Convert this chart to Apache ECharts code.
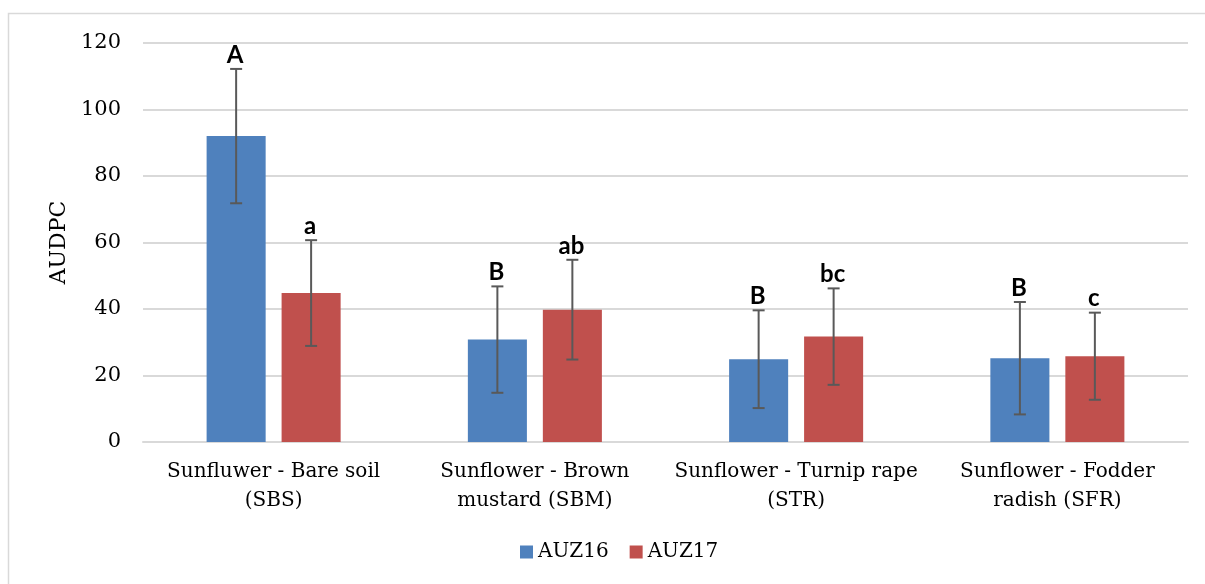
<!DOCTYPE html>
<html>
<head>
<meta charset="utf-8">
<script src="https://cdn.jsdelivr.net/npm/echarts@6/dist/echarts.min.js"></script>
<style>
html,body{margin:0;padding:0;background:#fff;}
#chart{width:1205px;height:584px;}
</style>
</head>
<body>
<div id="chart"></div>
<script>
const categories = ['Sunfluwer - Bare soil\n(SBS)', 'Sunflower - Brown\nmustard (SBM)', 'Sunflower - Turnip rape\n(STR)', 'Sunflower - Fodder\nradish (SFR)'];
const seriesNames = ['AUZ16', 'AUZ17'];
const auz16 = [92, 30.8, 24.9, 25.2];
const auz16Err = [20.2, 16, 14.7, 16.9];
const auz17 = [44.8, 39.8, 31.7, 25.8];
const auz17Err = [15.9, 15, 14.5, 13.1];
const letters16 = ['A', 'B', 'B', 'B'];
const letters17 = ['a', 'ab', 'bc', 'c'];
const yTicks = [0, 20, 40, 60, 80, 100, 120];

const BLUE = '#4f81bd', RED = '#c0504d';
const SERIF = '"DejaVu Serif", "Liberation Serif", serif';
const BAR_FRAC = 0.226, GAP_FRAC = 0.27;

function errSeries(vals, errs, letters, side) {
  return {
    type: 'custom',
    z: 10,
    data: vals.map((v, i) => [i, v, errs[i]]),
    renderItem: function (params, api) {
      const i = api.value(0), v = api.value(1), e = api.value(2);
      const letter = letters[params.dataIndex];
      const bw = api.size([1, 0])[0];
      const barW = bw * BAR_FRAC;
      const x = api.coord([i, v])[0] + side * barW * (1 + GAP_FRAC) / 2;
      const yT = api.coord([i, v + e])[1];
      const yB = api.coord([i, v - e])[1];
      const st = { stroke: '#595959', lineWidth: 2 };
      const cap = 6;
      return {
        type: 'group',
        children: [
          { type: 'line', shape: { x1: x, y1: yT, x2: x, y2: yB }, style: st },
          { type: 'line', shape: { x1: x - cap, y1: yT, x2: x + cap, y2: yT }, style: st },
          { type: 'line', shape: { x1: x - cap, y1: yB, x2: x + cap, y2: yB }, style: st },
          { type: 'text', style: { x: x - 1, y: yT - 2, text: letter, fill: '#000',
              font: 'bold 24px Lato, "Open Sans", sans-serif', align: 'center', verticalAlign: 'bottom' } }
        ]
      };
    }
  };
}

const chart = echarts.init(document.getElementById('chart'), null, { renderer: 'canvas' });
chart.setOption({
  animation: false,
  backgroundColor: '#fff',
  graphic: [{
    type: 'rect', shape: { x: 8.5, y: 13.5, width: 1400, height: 800 },
    style: { fill: 'none', stroke: '#d9d9d9', lineWidth: 1.5 }, silent: true, z: -10
  }],
  grid: { left: 143, right: 17, top: 43, bottom: 142, containLabel: false },
  legend: {
    data: seriesNames,
    bottom: 17,
    left: 515,
    icon: 'rect',
    itemWidth: 13,
    itemHeight: 13,
    itemGap: 21,
    textStyle: { fontFamily: SERIF, fontSize: 20, color: '#000' }
  },
  xAxis: {
    type: 'category',
    data: categories,
    axisLine: { show: true, lineStyle: { color: '#d9d9d9', width: 2 } },
    axisTick: { show: false },
    axisLabel: { fontFamily: SERIF, fontSize: 20, color: '#000', lineHeight: 29, margin: 15, interval: 0 }
  },
  yAxis: {
    type: 'value',
    min: 0, max: 120, interval: 20,
    name: 'AUDPC',
    nameLocation: 'middle',
    nameGap: 72,
    nameTextStyle: { fontFamily: SERIF, fontSize: 22, color: '#000' },
    axisLine: { show: false },
    axisTick: { show: false },
    splitLine: { lineStyle: { color: '#d9d9d9', width: 2 } },
    axisLabel: { fontFamily: SERIF, fontSize: 21, color: '#000', margin: 22,
      formatter: v => yTicks.indexOf(v) >= 0 ? String(v) : '' }
  },
  series: [
    { name: seriesNames[0], type: 'bar', data: auz16, barWidth: (BAR_FRAC * 100) + '%', barGap: (GAP_FRAC * 100) + '%', itemStyle: { color: BLUE } },
    { name: seriesNames[1], type: 'bar', data: auz17, barWidth: (BAR_FRAC * 100) + '%', barGap: (GAP_FRAC * 100) + '%', itemStyle: { color: RED } },
    errSeries(auz16, auz16Err, letters16, -1),
    errSeries(auz17, auz17Err, letters17, 1)
  ]
});
</script>
</body>
</html>
